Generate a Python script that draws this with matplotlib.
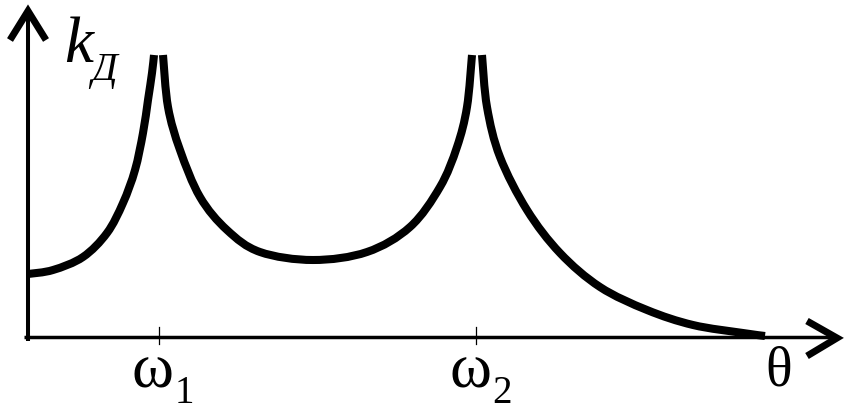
import matplotlib.pyplot as plt
from matplotlib.path import Path
from matplotlib.patches import PathPatch

# Datos (θ a lo largo del eje, k_Д sobre el eje)
theta_izq = [0, 25, 55, 79, 95, 107, 115, 120, 124, 126]
k_izq = [63, 67, 80, 104, 134, 167, 204, 237, 264, 282]

theta_med = [135, 140, 152, 172, 199, 232, 285, 339, 382, 412, 429, 439, 444]
k_med = [282, 230, 187, 140, 107, 85, 77, 85, 110, 150, 190, 230, 282]

theta_der = [454, 459, 472, 499, 532, 572, 619, 665, 715, 737]
k_der = [282, 230, 180, 127, 84, 50, 27, 12, 4, 1]

# Posiciones de las frecuencias de resonancia
omegas = [131, 448]
etiquetas_omega = ['1', '2']

plt.rcParams['font.family'] = ['Liberation Serif', 'DejaVu Serif']

fig = plt.figure(figsize=(8.47, 4.12), dpi=100)
ax = fig.add_axes([0, 0, 1, 1])
ax.set_xlim(-28, 819)
ax.set_ylim(-75, 337)
ax.axis('off')


def curva_suave(x, y):
    '''
        Dibuja una curva suave que pasa por los puntos (Catmull-Rom -> Bezier)
    '''
    puntos = list(zip(x, y))
    verts = [puntos[0]]
    codes = [Path.MOVETO]
    for i in range(len(puntos) - 1):
        p0 = puntos[i - 1] if i > 0 else puntos[i]
        p1 = puntos[i]
        p2 = puntos[i + 1]
        p3 = puntos[i + 2] if i + 2 < len(puntos) else p2
        c1 = (p1[0] + (p2[0] - p0[0]) / 6, p1[1] + (p2[1] - p0[1]) / 6)
        c2 = (p2[0] - (p3[0] - p1[0]) / 6, p2[1] - (p3[1] - p1[1]) / 6)
        verts += [c1, c2, p2]
        codes += [Path.CURVE4] * 3
    ax.add_patch(PathPatch(Path(verts, codes), fill=False, lw=5.8,
                           edgecolor='black', capstyle='butt',
                           joinstyle='round'))


curva_suave(theta_izq, k_izq)
curva_suave(theta_med, k_med)
curva_suave(theta_der, k_der)

# Ejes con flechas
ax.plot([0, 0], [-4, 325], color='black', lw=2.9, solid_capstyle='butt')
ax.plot([-4, 807], [0, 0], color='black', lw=2.5, solid_capstyle='butt')
ax.plot([-18, 0, 18], [297, 326, 297], color='black', lw=5,
        solid_joinstyle='miter', solid_capstyle='butt')
ax.plot([779, 809, 779], [16, -1, -19], color='black', lw=5,
        solid_joinstyle='miter', solid_capstyle='butt')

# Marcas de ω1 y ω2
for i in range(len(omegas)):
    ax.plot([omegas[i], omegas[i]], [10, -7], color='black', lw=0.9)
    ax.text(omegas[i] - 27, -50, 'ω', fontsize=46, ha='left', va='baseline')
    ax.text(omegas[i] + 16, -66, etiquetas_omega[i], fontsize=28,
            ha='left', va='baseline')

ax.text(737, -49, 'θ', fontsize=40, ha='left', va='baseline')
ax.text(36, 275, 'k', fontsize=47, style='italic', ha='left', va='baseline')
ax.text(63, 257, 'Д', fontsize=29, style='italic', ha='left', va='baseline')

fig.savefig('out.png', dpi=100)
